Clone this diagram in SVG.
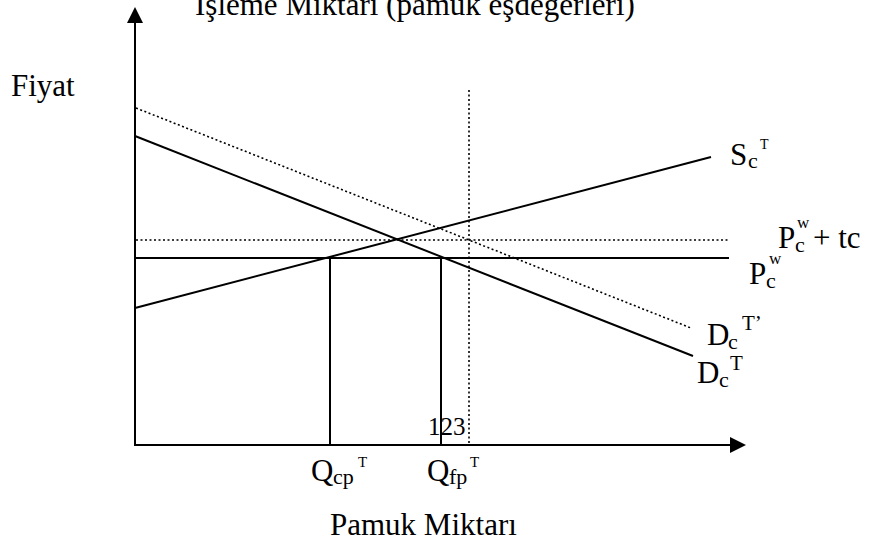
<svg xmlns="http://www.w3.org/2000/svg" width="880" height="540" viewBox="0 0 880 540">
<style>
text{font-family:"Liberation Serif","Times New Roman",serif;fill:#000}
.lbl{font-size:31px}
.sub{font-size:22px}
.ln{stroke:#000;stroke-width:2;fill:none}
.dot{stroke:#000;stroke-width:1.6;fill:none;stroke-dasharray:2 2.5}
</style>
<defs>
<marker id="ah" viewBox="0 0 16 16" refX="0" refY="8" markerWidth="16" markerHeight="16" markerUnits="userSpaceOnUse" orient="auto">
<path d="M0,0 L16,8 L0,16 Z" fill="#000"/>
</marker>
</defs>
<rect width="880" height="540" fill="#fff"/>
<g id="axes">
<line class="ln" x1="135" y1="446" x2="135" y2="23" marker-end="url(#ah)"/>
<line class="ln" x1="134" y1="445" x2="730" y2="445" marker-end="url(#ah)"/>
</g>
<g id="connectors">
<line class="dot" x1="136" y1="108" x2="691" y2="328"/>
<line class="ln" x1="135" y1="136" x2="693" y2="356"/>
<line class="ln" x1="135" y1="308" x2="711" y2="157"/>
<line class="dot" x1="136" y1="240" x2="729" y2="240"/>
<line class="ln" x1="135" y1="258" x2="729" y2="258"/>
<line class="ln" x1="330" y1="258" x2="330" y2="445"/>
<line class="ln" x1="441" y1="258" x2="441" y2="445"/>
<line class="dot" x1="469" y1="90" x2="469" y2="445"/>
</g>
<g id="title"><text class="lbl" x="195" y="15">İşleme Miktarı (pamuk eşdeğerleri)</text></g>
<g id="fiyat"><text class="lbl" x="11" y="96">Fiyat</text></g>
<g id="xlabel"><text class="lbl" x="330" y="535">Pamuk Miktarı</text></g>
<g id="n123"><text x="428" y="435" style="font-size:25px">123</text></g>
<g id="S"><text class="lbl" x="730" y="165">S</text><text class="sub" x="748" y="168">c</text><text x="760" y="149" style="font-size:14px">T</text></g>
<g id="Ptc"><text class="lbl" x="778" y="248">P</text><text class="sub" x="795" y="252">c</text><text x="797" y="228" style="font-size:17px">w</text><text class="lbl" x="813" y="248">+ tc</text></g>
<g id="Pw"><text class="lbl" x="749" y="284">P</text><text class="sub" x="766" y="288">c</text><text x="769" y="264" style="font-size:17px">w</text></g>
<g id="Dp"><text class="lbl" x="707" y="345">D</text><text class="sub" x="728" y="349">c</text><text x="742" y="330" style="font-size:21px">T’</text></g>
<g id="D"><text class="lbl" x="697" y="383">D</text><text class="sub" x="719" y="387">c</text><text x="730" y="370" style="font-size:21px">T</text></g>
<g id="Qcp"><text class="lbl" x="311" y="481">Q</text><text class="sub" x="333" y="484">cp</text><text x="358" y="467" style="font-size:15px">T</text></g>
<g id="Qfp"><text class="lbl" x="427" y="481">Q</text><text class="sub" x="449" y="484">fp</text><text x="470" y="467" style="font-size:15px">T</text></g>
</svg>
